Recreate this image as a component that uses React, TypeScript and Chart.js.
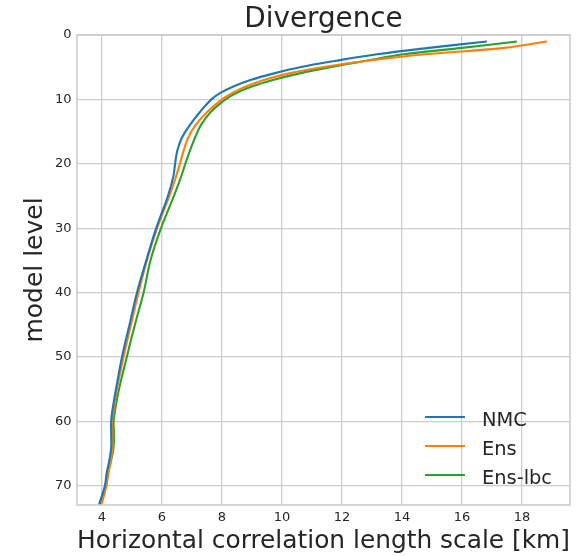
import React, { useEffect, useRef } from 'react';
import { Chart, registerables } from 'chart.js';

Chart.register(...registerables);

// model levels at which the curves were read
const levels = [1, 2, 3, 4, 5, 6, 7, 8, 9, 10, 12, 14, 16, 18, 20, 22, 25, 30, 35, 40, 45, 50, 55, 58, 60, 62, 64, 66, 68, 70, 73];

// horizontal correlation length scale [km]
const nmc = [16.83, 14.9, 13.17, 11.8, 10.6, 9.7, 8.95, 8.38, 7.95, 7.65, 7.26, 6.93, 6.66, 6.51, 6.44, 6.38, 6.2, 5.81, 5.48, 5.17, 4.92, 4.67, 4.47, 4.36, 4.31, 4.31, 4.31, 4.25, 4.16, 4.1, 3.9];
const ens = [18.83, 17.4, 14.75, 12.85, 11.35, 10.2, 9.4, 8.8, 8.35, 8.0, 7.5, 7.12, 6.87, 6.72, 6.6, 6.47, 6.25, 5.84, 5.5, 5.22, 4.97, 4.72, 4.5, 4.4, 4.34, 4.35, 4.36, 4.3, 4.22, 4.15, 3.98];
const ensLbc = [17.83, 16.0, 14.05, 12.8, 11.6, 10.55, 9.7, 9.0, 8.48, 8.12, 7.62, 7.3, 7.1, 6.93, 6.78, 6.64, 6.4, 5.97, 5.62, 5.39, 5.1, 4.83, 4.57, 4.45, 4.39, 4.4, 4.39, 4.31, 4.2, 4.13, 3.96];

const seriesNames = ['NMC', 'Ens', 'Ens-lbc'];
const seriesColors = ['#1f77b4', '#ff7f0e', '#2ca02c'];

const xTicks = [4, 6, 8, 10, 12, 14, 16, 18];
const xTickLabels = ['4', '6', '8', '10', '12', '14', '16', '18'];
const yTicks = [0, 10, 20, 30, 40, 50, 60, 70];
const yTickLabels = ['0', '10', '20', '30', '40', '50', '60', '70'];

const titleText = 'Divergence';
const xTitle = 'Horizontal correlation length scale [km]';
const yTitle = 'model level';

const FONT = "'DejaVu Sans', 'Liberation Sans', sans-serif";
const TEXT = '#262626';
const GRID = '#cccccc';

export default function App() {
  const ref = useRef<HTMLCanvasElement>(null);

  useEffect(() => {
    document.body.style.margin = '0';
    const canvas = ref.current;
    if (!canvas) return;
    const series = [nmc, ens, ensLbc];

    const framePlugin = {
      id: 'frame',
      afterDatasetsDraw(chart: any) {
        const { ctx, chartArea: a } = chart;
        ctx.save();
        ctx.strokeStyle = GRID;
        ctx.lineWidth = 1.6;
        ctx.strokeRect(a.left, a.top, a.right - a.left, a.bottom - a.top);
        ctx.restore();
      },
    };

    const titlePlugin = {
      id: 'axesTitle',
      afterDraw(chart: any) {
        const { ctx, chartArea: a } = chart;
        ctx.save();
        ctx.fillStyle = TEXT;
        ctx.font = `27.8px ${FONT}`;
        ctx.textAlign = 'center';
        ctx.textBaseline = 'alphabetic';
        ctx.fillText(titleText, (a.left + a.right) / 2, a.top - 8.4);
        ctx.restore();
      },
    };

    const legendPlugin = {
      id: 'insideLegend',
      afterDraw(chart: any) {
        const { ctx, chartArea: a } = chart;
        ctx.save();
        const x0 = a.right - 145;
        const y0 = a.bottom - 88;
        chart.data.datasets.forEach((ds: any, i: number) => {
          const y = y0 + i * 29;
          ctx.strokeStyle = ds.borderColor;
          ctx.lineWidth = 2;
          ctx.beginPath();
          ctx.moveTo(x0, y);
          ctx.lineTo(x0 + 40, y);
          ctx.stroke();
          ctx.fillStyle = TEXT;
          ctx.font = `19.4px ${FONT}`;
          ctx.textAlign = 'left';
          ctx.textBaseline = 'alphabetic';
          ctx.fillText(ds.label, x0 + 57, y + 8.7);
        });
        ctx.restore();
      },
    };

    const chart = new Chart(canvas, {
      type: 'scatter',
      data: {
        datasets: series.map((vals, i) => ({
          label: seriesNames[i],
          data: vals.map((v, j) => ({ x: v, y: levels[j] })),
          showLine: true,
          borderColor: seriesColors[i],
          backgroundColor: seriesColors[i],
          borderWidth: 2.1,
          pointRadius: 0,
          tension: 0.4,
          fill: false,
        })),
      },
      options: {
        responsive: false,
        animation: false,
        events: [],
        layout: { padding: { left: 0, right: 6, top: 35, bottom: 0 } },
        plugins: {
          legend: { display: false },
          tooltip: { enabled: false },
          title: { display: false },
        },
        scales: {
          x: {
            type: 'linear',
            min: 3.17,
            max: 19.6,
            afterFit: (s: any) => { s.height = 51; },
            afterBuildTicks: (s: any) => { s.ticks = xTicks.map((v) => ({ value: v })); },
            ticks: {
              autoSkip: false,
              maxRotation: 0,
              padding: 4.5,
              color: TEXT,
              font: { family: FONT, size: 13 },
              callback: (_v: any, i: number) => xTickLabels[i],
            },
            grid: { color: GRID, lineWidth: 1.3, drawTicks: false },
            border: { display: false },
            title: {
              display: true,
              text: xTitle,
              color: TEXT,
              font: { family: FONT, size: 25, lineHeight: 1 },
              padding: { top: 0, bottom: 1.6 },
            },
          },
          y: {
            type: 'linear',
            reverse: true,
            min: 0,
            max: 73,
            afterFit: (s: any) => { s.width = 77; },
            afterBuildTicks: (s: any) => { s.ticks = yTicks.map((v) => ({ value: v })); },
            ticks: {
              autoSkip: false,
              padding: 5.5,
              color: TEXT,
              font: { family: FONT, size: 13 },
              callback: (_v: any, i: number) => yTickLabels[i],
            },
            grid: { color: GRID, lineWidth: 1.3, drawTicks: false },
            border: { display: false },
            title: {
              display: true,
              text: yTitle,
              color: TEXT,
              font: { family: FONT, size: 25, lineHeight: 1 },
              padding: { top: 23, bottom: 0 },
            },
          },
        },
      },
      plugins: [framePlugin, titlePlugin, legendPlugin],
    } as any);

    return () => chart.destroy();
  }, []);

  return (
    <div style={{ width: 576, height: 556 }}>
      <canvas ref={ref} width={576} height={556} style={{ display: 'block' }} />
    </div>
  );
}
